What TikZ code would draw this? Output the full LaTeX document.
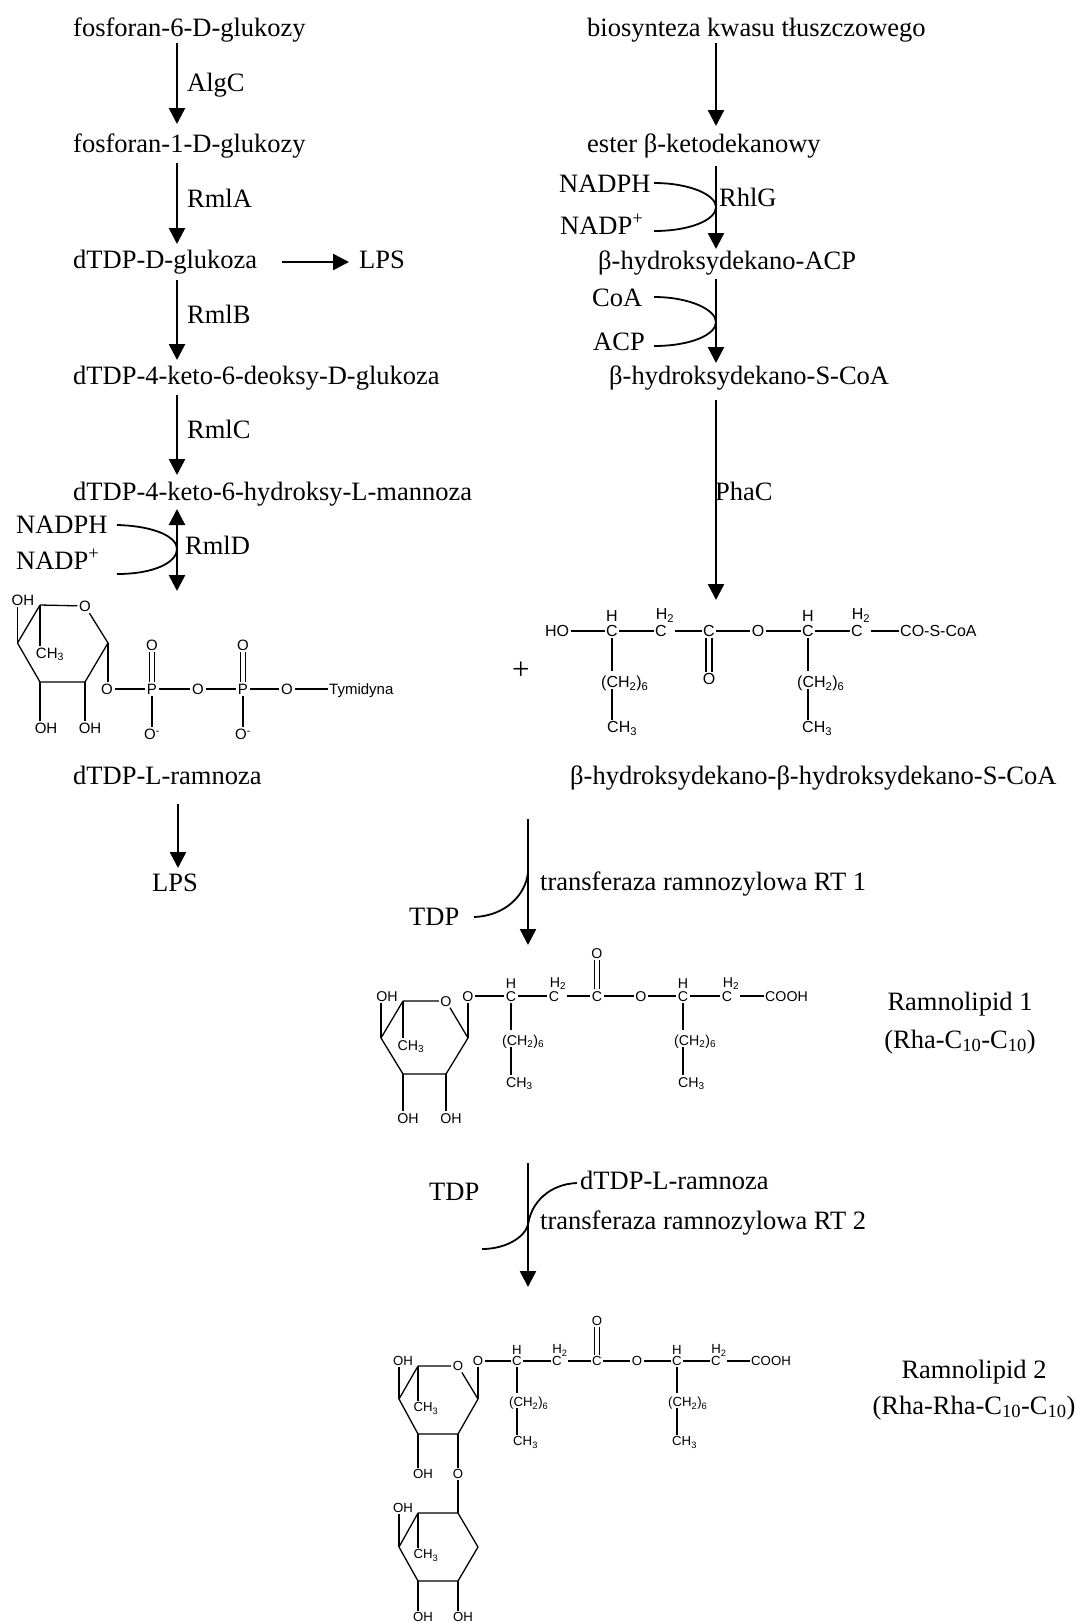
\documentclass[tikz,border=0pt]{standalone}
\usepackage{fontspec}
\setmainfont{Liberation Serif}
\newfontfamily\arialf{Liberation Sans}
\usetikzlibrary{arrows.meta}
\tikzset{
  lab/.style={anchor=west,inner sep=0pt,text height=18pt,text depth=0pt,font=\fontsize{26.5}{30}\selectfont},
  clab/.style={lab,anchor=center},
  flow/.style={line width=2.5pt,-{Triangle[width=16pt,length=16pt]}},
  both/.style={line width=2.5pt,{Triangle[width=16pt,length=16pt]}-{Triangle[width=16pt,length=16pt]}},
  side/.style={line width=1.8pt},
  atomA/.style={inner sep=1.5pt,text height=10.8pt,text depth=0pt,font=\arialf\fontsize{15}{17}\selectfont},
  atomB/.style={inner sep=1.5pt,text height=11.4pt,text depth=0pt,font=\arialf\fontsize{16}{18}\selectfont},
  atomC/.style={inner sep=1.5pt,text height=10.1pt,text depth=0pt,font=\arialf\fontsize{14.2}{16}\selectfont},
  atomD/.style={inner sep=1.5pt,text height=9.4pt,text depth=0pt,font=\arialf\fontsize{13.2}{15}\selectfont},
  bond/.style={line width=1.1pt},
  ringb/.style={line width=1.3pt,line join=round},
}
\newcommand{\sbs}[1]{\textsubscript{#1}}
\begin{document}
\begin{tikzpicture}[x=1pt,y=-1pt]
\useasboundingbox (0,0) rectangle (1078,1623);
% ---------- left column labels
\node[lab] (l1) at (73,27) {fosforan-6-D-glukozy};
\node[lab] (l2) at (73,143) {fosforan-1-D-glukozy};
\node[lab] (l3) at (73,259) {dTDP-D-glukoza};
\node[lab] (lps1) at (359,259) {LPS};
\node[lab] (l4) at (73,375) {dTDP-4-keto-6-deoksy-D-glukoza};
\node[lab] (l5) at (73,491) {dTDP-4-keto-6-hydroksy-L-mannoza};
\node[lab] (l6) at (73,775) {dTDP-L-ramnoza};
\node[lab] (lps2) at (152,882) {LPS};
\node[lab] (e1) at (187,82) {AlgC};
\node[lab] (e2) at (187,198) {RmlA};
\node[lab] (e3) at (187,314) {RmlB};
\node[lab] (e4) at (187,429) {RmlC};
\node[lab] (e5) at (185,545) {RmlD};
\node[lab] (nadph1) at (16,524) {NADPH};
\node[lab] (nadp1) at (16,560) {NADP\textsuperscript{+}};
\coordinate (a1s) at (177,43);  \coordinate (a1e) at (177,124);
\coordinate (a2s) at (177,163); \coordinate (a2e) at (177,244);
\coordinate (a3s) at (177,280); \coordinate (a3e) at (177,360);
\coordinate (a4s) at (177,395); \coordinate (a4e) at (177,475);
\coordinate (a5s) at (177,509); \coordinate (a5e) at (177,591);
\coordinate (a6s) at (178,804); \coordinate (a6e) at (178,868);
\coordinate (a7s) at (282,262); \coordinate (a7e) at (349,262);
\draw[flow] (a1s) -- (a1e);
\draw[flow] (a2s) -- (a2e);
\draw[flow] (a3s) -- (a3e);
\draw[flow] (a4s) -- (a4e);
\draw[both] (a5s) -- (a5e);
\draw[flow] (a6s) -- (a6e);
\draw[flow] (a7s) -- (a7e);
\coordinate (c1a) at (117,525); \coordinate (c1m) at (177,549); \coordinate (c1b) at (117,574);
\draw[side] (c1a) .. controls (155,526) and (177,537) .. (c1m) .. controls (177,562) and (155,574) .. (c1b);
% ---------- right column labels
\node[lab] (r1) at (587,27) {biosynteza kwasu tłuszczowego};
\node[lab] (r2) at (587,143) {ester β-ketodekanowy};
\node[lab] (r3) at (598,260) {β-hydroksydekano-ACP};
\node[lab] (r4) at (609,375) {β-hydroksydekano-S-CoA};
\node[lab] (r5) at (570,775) {β-hydroksydekano-β-hydroksydekano-S-CoA};
\node[lab] (nadph2) at (559,183) {NADPH};
\node[lab] (nadp2) at (560,225) {NADP\textsuperscript{+}};
\node[lab] (rhlg) at (719,197) {RhlG};
\node[lab] (coa) at (592,297) {CoA};
\node[lab] (acp) at (593,341) {ACP};
\node[lab] (phac) at (715,491) {PhaC};
\node[lab,font=\fontsize{31}{34}\selectfont] (plus) at (512,670) {+};
\coordinate (b1s) at (716,43);  \coordinate (b1e) at (716,126);
\coordinate (b2s) at (716,166); \coordinate (b2e) at (716,249);
\coordinate (b3s) at (716,279); \coordinate (b3e) at (716,363);
\coordinate (b4s) at (716,400); \coordinate (b4e) at (716,600);
\draw[flow] (b1s) -- (b1e);
\draw[flow] (b2s) -- (b2e);
\draw[flow] (b3s) -- (b3e);
\draw[flow] (b4s) -- (b4e);
\coordinate (c2a) at (654,183); \coordinate (c2m) at (716,207); \coordinate (c2b) at (654,231);
\draw[side] (c2a) .. controls (690,183) and (716,195) .. (c2m) .. controls (716,220) and (690,231) .. (c2b);
\coordinate (c3a) at (654,297); \coordinate (c3m) at (716,322); \coordinate (c3b) at (654,346);
\draw[side] (c3a) .. controls (690,297) and (716,310) .. (c3m) .. controls (716,335) and (690,346) .. (c3b);
% ---------- transferases
\node[lab] (tdp1) at (409,916) {TDP};
\node[lab] (t1) at (540,881) {transferaza ramnozylowa RT 1};
\node[lab] (tdp2) at (429,1191) {TDP};
\node[lab] (drh) at (580,1180) {dTDP-L-ramnoza};
\node[lab] (t2) at (540,1220) {transferaza ramnozylowa RT 2};
\coordinate (d1s) at (528,819);  \coordinate (d1e) at (528,945);
\coordinate (d2s) at (528,1163); \coordinate (d2e) at (528,1287);
\draw[flow] (d1s) -- (d1e);
\draw[flow] (d2s) -- (d2e);
\coordinate (c4a) at (474,917); \coordinate (c4b) at (528,872);
\draw[side] (c4a) .. controls (505,916) and (526,895) .. (c4b);
\coordinate (c5a) at (577,1183); \coordinate (c5m) at (528,1225); \coordinate (c5b) at (482,1249);
\draw[side] (c5a) .. controls (550,1184) and (531,1202) .. (c5m) .. controls (524,1238) and (505,1249) .. (c5b);
% ---------- product names
\node[clab] (n1) at (960,1001) {Ramnolipid 1};
\node[clab] (n2) at (960,1039) {(Rha-C\sbs{10}-C\sbs{10})};
\node[clab] (n3) at (974,1369) {Ramnolipid 2};
\node[clab] (n4) at (974,1405) {(Rha-Rha-C\sbs{10}-C\sbs{10})};
% ---------- dTDP-L-rhamnose
\begin{scope}[every node/.style={atomA}]
\coordinate (pa) at (40,605); \node (po) at (85,606) {O}; \coordinate (pb) at (108,643);
\coordinate (pc) at (85,682); \coordinate (pd) at (40,682); \coordinate (pe) at (17.5,643);
\node (poh1) at (23,600) {OH}; \node (pch) at (50,653) {CH\sbs{3}};
\node (poh2) at (46,728) {OH}; \node (poh3) at (90,728) {OH};
\node (po2) at (107,689) {O}; \node (pp1) at (152,689) {P}; \node (po3) at (198,689) {O};
\node (pp2) at (243,689) {P}; \node (po4) at (287,689) {O};
\node[anchor=west] (pty) at (327.5,689) {Tymidyna};
\node (pt1) at (152,645) {O}; \node (pt2) at (243,645) {O};
\node (pm1) at (152,734) {O\textsuperscript{-}}; \node (pm2) at (243,734) {O\textsuperscript{-}};
\end{scope}
\draw[ringb] (pa) -- (po) -- (pb) -- (pc) -- (pd) -- (pe) -- (pa);
\draw[ringb] (pa) -- (pa |- pch.north);
\draw[ringb] (pe) -- (pe |- poh1.south);
\draw[ringb] (pd) -- (pd |- poh2.north);
\draw[ringb] (pc) -- (pc |- poh3.north);
\draw[ringb] (pb) -- (pb |- po2.north);
\draw[bond] (po2) -- (pp1);
\draw[bond] (pp1) -- (po3);
\draw[bond] (po3) -- (pp2);
\draw[bond] (pp2) -- (po4);
\draw[bond] (po4) -- (pty);
\foreach \n/\t/\m in {pp1/pt1/pm1,pp2/pt2/pm2}{
  \draw[bond] ([xshift=-2.2pt]\n.north) -- ([xshift=-2.2pt]\t.south);
  \draw[bond] ([xshift=2.2pt]\n.north) -- ([xshift=2.2pt]\t.south);
  \draw[bond] (\n) -- (\n |- \m.north);
}
% ---------- beta-hydroxy chain
\begin{scope}[every node/.style={atomB}]
\node (bho) at (557,631) {HO};
\node (bc1) at (612,631) {C}; \node (bh1) at (612,616) {H};
\node (bc2) at (661,631) {C}; \node (bh2) at (665,614) {H\sbs{2}};
\node (bc3) at (709,631) {C}; \node (bo) at (758,631) {O};
\node (bc4) at (808,631) {C}; \node (bh4) at (808,616) {H};
\node (bc5) at (857,631) {C}; \node (bh5) at (861,614) {H\sbs{2}};
\node[anchor=west] (bco) at (898.5,631) {CO-S-CoA};
\node (bdo) at (709,679) {O};
\node[anchor=west] (bm1) at (599.5,682) {(CH\sbs{2})\sbs{6}};
\node[anchor=west] (bm2) at (795.5,682) {(CH\sbs{2})\sbs{6}};
\node[anchor=west] (bt1) at (605.5,727) {CH\sbs{3}};
\node[anchor=west] (bt2) at (800.5,727) {CH\sbs{3}};
\end{scope}
\draw[bond] (bho) -- (bc1);
\draw[bond] (bc1) -- (bc2);
\draw[bond,shorten <=7pt] (bc2) -- (bc3);
\draw[bond] (bc3) -- (bo);
\draw[bond] (bo) -- (bc4);
\draw[bond] (bc4) -- (bc5);
\draw[bond,shorten <=7pt] (bc5) -- (bco);
\draw[bond,shorten >=4pt] (bc1) -- (bc1 |- bm1.north);
\draw[bond] (bc1 |- bm1.south) -- (bc1 |- bt1.north);
\draw[bond,shorten >=4pt] (bc4) -- (bc4 |- bm2.north);
\draw[bond] (bc4 |- bm2.south) -- (bc4 |- bt2.north);
\draw[bond] ([xshift=-3pt]bc3.south) -- ([xshift=-3pt]bdo.north);
\draw[bond] ([xshift=3pt]bc3.south) -- ([xshift=3pt]bdo.north);
% ---------- Ramnolipid 1
\begin{scope}[every node/.style={atomC}]
\coordinate (ra) at (403,1001); \node (ro) at (446,1001) {O}; \coordinate (rb) at (468,1038);
\coordinate (rc) at (446,1074); \coordinate (rd) at (403,1074); \coordinate (re) at (381,1038);
\node (roh1) at (387,996) {OH}; \node (rch) at (411,1045) {CH\sbs{3}};
\node (roh2) at (408,1118) {OH}; \node (roh3) at (451,1118) {OH};
\node (ro2) at (468,996) {O};
\node (rc1) at (511,996) {C}; \node (rh1) at (511,983) {H};
\node (rc2) at (554,996) {C}; \node (rh2) at (558,982) {H\sbs{2}};
\node (rc3) at (597,996) {C}; \node (rdo) at (597,953) {O};
\node (ro3) at (641,996) {O};
\node (rc4) at (683,996) {C}; \node (rh4) at (683,983) {H};
\node (rc5) at (727,996) {C}; \node (rh5) at (731,982) {H\sbs{2}};
\node[anchor=west] (rco) at (763.5,996) {COOH};
\node[anchor=west] (rm1) at (500.5,1040) {(CH\sbs{2})\sbs{6}};
\node[anchor=west] (rm2) at (672.5,1040) {(CH\sbs{2})\sbs{6}};
\node[anchor=west] (rt1) at (504.5,1082) {CH\sbs{3}};
\node[anchor=west] (rt2) at (676.5,1082) {CH\sbs{3}};
\end{scope}
\draw[ringb] (ra) -- (ro) -- (rb) -- (rc) -- (rd) -- (re) -- (ra);
\draw[ringb] (ra) -- (ra |- rch.north);
\draw[ringb] (re) -- (re |- roh1.south);
\draw[ringb] (rd) -- (rd |- roh2.north);
\draw[ringb] (rc) -- (rc |- roh3.north);
\draw[ringb] (rb) -- (rb |- ro2.south);
\draw[bond] (ro2) -- (rc1);
\draw[bond] (rc1) -- (rc2);
\draw[bond,shorten <=6pt] (rc2) -- (rc3);
\draw[bond] (rc3) -- (ro3);
\draw[bond] (ro3) -- (rc4);
\draw[bond] (rc4) -- (rc5);
\draw[bond,shorten <=6pt] (rc5) -- (rco);
\draw[bond,shorten >=3pt] (rc1) -- (rc1 |- rm1.north);
\draw[bond] (rc1 |- rm1.south) -- (rc1 |- rt1.north);
\draw[bond,shorten >=3pt] (rc4) -- (rc4 |- rm2.north);
\draw[bond] (rc4 |- rm2.south) -- (rc4 |- rt2.north);
\draw[bond] ([xshift=-2.2pt]rc3.north) -- ([xshift=-2.2pt]rdo.south);
\draw[bond] ([xshift=2.2pt]rc3.north) -- ([xshift=2.2pt]rdo.south);
% ---------- Ramnolipid 2
\begin{scope}[every node/.style={atomD}]
\coordinate (sa) at (418,1366); \node (so) at (458,1366) {O}; \coordinate (sb) at (478,1399);
\coordinate (sc) at (458,1434); \coordinate (sd) at (418,1434); \coordinate (se) at (399,1399);
\node (soh1) at (403,1361) {OH}; \node (sch) at (426,1407) {CH\sbs{3}};
\node (soh2) at (423,1474) {OH}; \node (slink) at (458,1474) {O};
\node (so2) at (478,1361) {O};
\node (sc1) at (517,1361) {C}; \node (sh1) at (517,1350) {H};
\node (sc2) at (557,1361) {C}; \node (sh2) at (560,1349) {H\sbs{2}};
\node (sc3) at (597,1361) {C}; \node (sdo) at (597,1321) {O};
\node (so3) at (637,1361) {O};
\node (sc4) at (677,1361) {C}; \node (sh4) at (677,1350) {H};
\node (sc5) at (716,1361) {C}; \node (sh5) at (719,1349) {H\sbs{2}};
\node[anchor=west] (sco) at (749.5,1361) {COOH};
\node[anchor=west] (sm1) at (507.5,1402) {(CH\sbs{2})\sbs{6}};
\node[anchor=west] (sm2) at (666.5,1402) {(CH\sbs{2})\sbs{6}};
\node[anchor=west] (st1) at (511.5,1441) {CH\sbs{3}};
\node[anchor=west] (st2) at (670.5,1441) {CH\sbs{3}};
\coordinate (ta) at (418,1513); \coordinate (to) at (458,1513); \coordinate (tb) at (478,1547);
\coordinate (tc) at (458,1581); \coordinate (td) at (418,1581); \coordinate (te) at (399,1547);
\node (toh1) at (403,1508) {OH}; \node (tch) at (426,1554) {CH\sbs{3}};
\node (toh2) at (423,1617) {OH}; \node (toh3) at (463,1617) {OH};
\end{scope}
\draw[ringb] (sa) -- (so) -- (sb) -- (sc) -- (sd) -- (se) -- (sa);
\draw[ringb] (sa) -- (sa |- sch.north);
\draw[ringb] (se) -- (se |- soh1.south);
\draw[ringb] (sd) -- (sd |- soh2.north);
\draw[ringb] (sc) -- (slink);
\draw[ringb] (slink) -- (to);
\draw[ringb] (sb) -- (sb |- so2.south);
\draw[bond] (so2) -- (sc1);
\draw[bond] (sc1) -- (sc2);
\draw[bond,shorten <=5pt] (sc2) -- (sc3);
\draw[bond] (sc3) -- (so3);
\draw[bond] (so3) -- (sc4);
\draw[bond] (sc4) -- (sc5);
\draw[bond,shorten <=5pt] (sc5) -- (sco);
\draw[bond,shorten >=3pt] (sc1) -- (sc1 |- sm1.north);
\draw[bond] (sc1 |- sm1.south) -- (sc1 |- st1.north);
\draw[bond,shorten >=3pt] (sc4) -- (sc4 |- sm2.north);
\draw[bond] (sc4 |- sm2.south) -- (sc4 |- st2.north);
\draw[bond] ([xshift=-2.2pt]sc3.north) -- ([xshift=-2.2pt]sdo.south);
\draw[bond] ([xshift=2.2pt]sc3.north) -- ([xshift=2.2pt]sdo.south);
\draw[ringb] (ta) -- (to) -- (tb) -- (tc) -- (td) -- (te) -- (ta);
\draw[ringb] (ta) -- (ta |- tch.north);
\draw[ringb] (te) -- (te |- toh1.south);
\draw[ringb] (td) -- (td |- toh2.north);
\draw[ringb] (tc) -- (tc |- toh3.north);
\end{tikzpicture}
\end{document}
